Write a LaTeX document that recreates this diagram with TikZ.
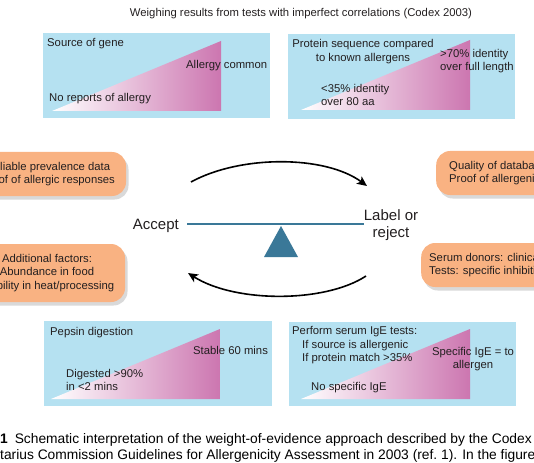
\documentclass[tikz,border=0pt]{standalone}
\usepackage{fontspec}
\setmainfont{Liberation Sans}
\usetikzlibrary{arrows.meta, shadows}
\definecolor{panelblue}{RGB}{181,225,241}
\definecolor{wedgepink}{RGB}{204,118,176}
\definecolor{pillorange}{RGB}{249,178,130}
\definecolor{beamblue}{RGB}{58,120,152}
\definecolor{inkgray}{RGB}{35,31,32}
\begin{document}
\begin{tikzpicture}[x=1pt, y=-1pt,
			>={Stealth[length=10pt, width=9pt, inset=2.5pt]},
			font=\fontsize{11.3}{13.5}\selectfont, text=inkgray,
			panel/.style={fill=panelblue, anchor=north west, inner sep=0pt, minimum width=227pt, minimum height=85pt},
			pill/.style={fill=pillorange, rounded corners=14pt, inner sep=0pt, minimum height=44pt,
				drop shadow={shadow xshift=2.5pt, shadow yshift=-3.5pt, opacity=0.3}},
			lbl/.style={inner sep=0pt, anchor=west, align=left},
			big/.style={font=\fontsize{15}{16.5}\selectfont, inner sep=0pt},
			arc/.style={->, line width=1.6pt, black},
			caption/.style={inner sep=0pt, anchor=base west, text=black, font=\fontsize{13.8}{16}\selectfont}]
			% Bildbereich
			\useasboundingbox (0,0) rectangle (534,462);
			\clip (0,0) rectangle (534,462);
			\node[inner sep=0pt] (title) at (301,14) {Weighing results from tests with imperfect correlations (Codex 2003)};
			% blaue Felder
			\node[panel] (genebox) at (43,33) {};
			\node[panel] (seqbox) at (288,34) {};
			\node[panel, minimum width=228pt] (pepsinbox) at (44,321) {};
			\node[panel, minimum height=84pt] (igebox) at (289,322) {};
			\foreach \x/\y in {52/111,301/110,51/399,301/399} \shade[left color=white, right color=wedgepink] (\x,\y) -- ++(169,0) -- ++(0,-70) -- cycle; % Keile
			% Beschriftung der Felder
			\node[lbl] (genetitle) at (47,44) {Source of gene};
			\node[lbl] (genehigh) at (186,66) {Allergy common};
			\node[lbl] (genelow) at (49,99) {No reports of allergy};
			\node[inner sep=0pt, align=center] (seqtitle) at (363,51.5) {Protein sequence compared\\to known allergens};
			\node[lbl] (seqhigh) at (440,61) {>70\% identity\\over full length};
			\node[lbl] (seqlow) at (321,95) {<35\% identity\\over 80 aa};
			\node[lbl] (pepsintitle) at (50,333) {Pepsin digestion};
			\node[lbl] (pepsinhigh) at (193,350) {Stable 60 mins};
			\node[lbl] (pepsinlow) at (66,380) {Digested >90\%\\in <2 mins};
			\node[lbl] (igetitle) at (292,332) {Perform serum IgE tests:};
			\node[lbl] (igecases) at (302,352) {If source is allergenic\\If protein match >35\%};
			\node[inner sep=0pt, align=center] (igehigh) at (473,359) {Specific IgE = to\\allergen};
			\node[lbl] (igelow) at (311,388) {No specific IgE};
			% orange Kaesten
			\node[pill, minimum width=156pt, align=center] (prevpill) at (48,174) {Reliable prevalence data\\Proof of allergic responses};
			\node[pill, minimum width=156pt, minimum height=58pt, align=center] (factorpill) at (47,273) {Additional factors:\\Abundance in food\\Stability in heat/processing};
			\node[pill, anchor=west, inner xsep=13pt, align=left] (qualpill) at (436,173) {Quality of database\\Proof of allergenicity};
			\node[pill, anchor=west, inner xsep=8pt, align=left] (serumpill) at (421,265) {Serum donors: clinical history\\Tests: specific inhibition};
			% Waage
			\coordinate (beamL) at (187,224);
			\coordinate (beamR) at (364,224);
			\draw[beamblue, line width=2.6pt] (beamL) -- (beamR);
			\fill[beamblue] (281,226) -- (264,257) -- (298,257) -- cycle;
			\node[big, anchor=base east] (accept) at (179,229) {Accept};
			\node[big, align=center] (verdict) at (391,225) {Label or\\reject};
			% Pfeile
			\coordinate (topfrom) at (191,182);
			\coordinate (topto) at (367,186);
			\coordinate (botfrom) at (366,276);
			\coordinate (botto) at (188,273);
			\draw[arc] (topfrom) .. controls (240,155) and (325,155) .. (topto);
			\draw[arc] (botfrom) .. controls (325,303) and (235,303) .. (botto);
			% Bildunterschrift
			\node[caption] (capline1) at (0,443.5) {\textbf{1}\enspace Schematic interpretation of the weight-of-evidence approach described by the Codex};
			\node[caption] (capline2) at (0,459) {\llap{Alimen}tarius Commission Guidelines for Allergenicity Assessment in 2003 (ref.~1). In the figure};
		\end{tikzpicture}
\end{document}
